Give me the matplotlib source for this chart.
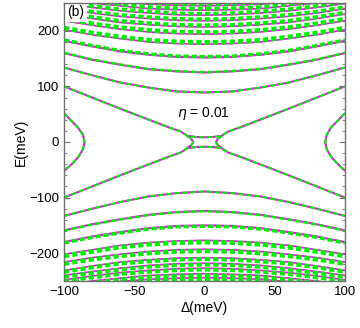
import matplotlib
matplotlib.use("Agg")
import matplotlib.pyplot as plt
import numpy as np
from matplotlib.ticker import MultipleLocator

plt.rcParams['font.family'] = ['Liberation Sans', 'DejaVu Sans']
plt.rcParams['lines.scale_dashes'] = False

# ---- data (meV) ----
delta = [-100, -80, -60, -40, -20, 0, 20, 40, 60, 80, 100]

# upper bands E_n(Delta)
up1 = [134, 120, 107, 98, 91, 89, 91, 98, 107, 120, 134]
up2 = [160, 148, 139, 131, 127, 125, 127, 131, 139, 148, 160]
up3 = [182, 172, 163, 157, 153, 152, 153, 157, 163, 172, 182]
up4 = [202, 193, 186, 180, 177, 176, 177, 180, 186, 193, 202]
up5 = [218, 210, 203, 198, 195, 194, 195, 198, 203, 210, 218]
up6 = [230, 222, 215, 211, 208, 207, 208, 211, 215, 222, 230]
up7 = [240, 232, 226, 222, 219, 218, 219, 222, 226, 232, 240]
up8 = [249, 242, 236, 232, 229, 228, 229, 232, 236, 242, 249]
up9 = [257, 250, 245, 240, 238, 237, 238, 240, 245, 250, 257]
up10 = [265, 258, 252, 248, 246, 245, 246, 248, 252, 258, 265]

# lower bands
dn1 = [-133, -120, -108, -98, -92, -89, -92, -98, -108, -120, -133]
dn2 = [-159, -148, -139, -131, -126, -124, -126, -131, -139, -148, -159]
dn3 = [-180, -170, -162, -155, -151, -150, -151, -155, -162, -170, -180]
dn4 = [-202, -194, -186, -181, -178, -177, -178, -181, -186, -194, -202]
dn5 = [-216, -208, -202, -197, -194, -193, -194, -197, -202, -208, -216]
dn6 = [-231, -223, -216, -212, -209, -208, -209, -212, -216, -223, -231]
dn7 = [-240, -233, -227, -222, -219, -218, -219, -222, -227, -233, -240]
dn8 = [-248, -241, -235, -231, -228, -227, -228, -231, -235, -241, -248]
dn9 = [-257, -250, -245, -240, -238, -237, -238, -240, -245, -250, -257]
dn10 = [-264, -257, -251, -247, -245, -244, -245, -247, -251, -257, -264]

# crossing ("X") branches
delta_x = [-100, -80, -60, -40, -25, -17, -12, -6, 0, 6, 12, 17, 25, 40, 60, 80, 100]
x_up = [100, 80, 60, 40.5, 26, 19, 11, 9, 8.5, 9, 11, 19, 26, 40.5, 60, 80, 100]
x_dn = [-100, -80, -60, -40.5, -26, -19, -11, -9, -8.5, -9, -11, -19, -26, -40.5, -60, -80, -100]

# small arcs near the centre
arc_E = [11, 6, 0, -6, -11]
arc_left = [-12.5, -9.5, -8, -9.5, -12.5]
arc_right = [12.5, 9.5, 8.3, 9.5, 12.5]

# side curves near the edges
side_E = [52, 40, 26, 13, 0, -13, -26, -40, -52]
side_left = [-100, -95.5, -90, -86.5, -85.3, -86.5, -89.5, -94.5, -100]
side_right = [100, 95.5, 90, 87, 86, 87, 90, 95, 100]

MAG = '#ff00ff'
GRN = '#00f000'

fig = plt.figure(figsize=(3.6, 3.28), dpi=100)
ax = fig.add_axes([64/360, 1-281/328, 281/360, 278/328])

def draw(x, y, green_lw=1.4, shift=0.0, dashes=(4.0, 1.8), mag_lw=1.5):
    ax.plot(x, y, color=MAG, lw=mag_lw, solid_capstyle='butt', zorder=2)
    yy = np.asarray(y, float)
    yy = yy + np.sign(yy) * shift
    l, = ax.plot(x, yy, color=GRN, lw=green_lw, zorder=3, dash_capstyle='butt')
    l.set_dashes(dashes)

styles = [(1.4, 0.0), (1.7, 0.5), (2.4, 1.5), (3.4, 3.0), (3.2, 3.0),
          (3.0, 2.5), (2.8, 2.5), (2.8, 2.5), (2.8, 2.5), (2.8, 2.5)]
ups = [up1, up2, up3, up4, up5, up6, up7, up8, up9, up10]
dns = [dn1, dn2, dn3, dn4, dn5, dn6, dn7, dn8, dn9, dn10]
for k, (lw, sh) in enumerate(styles):
    dsh = (4.0, 1.8) if k < 3 else (3.8, 2.2)
    mlw = 1.5 if k < 3 else 1.2
    draw(delta, ups[k], lw, sh, dsh, mlw)
    draw(delta, dns[k], lw, sh, dsh, mlw)

draw(delta_x, x_up)
draw(delta_x, x_dn)
draw(arc_left, arc_E)
draw(arc_right, arc_E)
draw(side_left, side_E)
draw(side_right, side_E)

ax.set_xlim(-100, 100)
ax.set_ylim(-250, 250)
ax.xaxis.set_major_locator(MultipleLocator(50))
ax.xaxis.set_minor_locator(MultipleLocator(10))
ax.yaxis.set_major_locator(MultipleLocator(100))
ax.yaxis.set_minor_locator(MultipleLocator(20))
frame_c = '#707070'
for s in ax.spines.values():
    s.set_color(frame_c)
    s.set_linewidth(1.0)
    s.set_zorder(10)
ax.tick_params(which='both', direction='in', top=True, right=True, color=frame_c,
               labelsize=9.5, labelcolor='black')
ax.tick_params(which='major', length=4.5, width=0.8)
ax.tick_params(which='minor', length=2.5, width=0.6)
ax.set_xlabel('Δ(meV)', fontsize=10, labelpad=2)
ax.set_ylabel('E(meV)', fontsize=10, labelpad=1)

ax.text(-1, 52, r'$\eta$ = 0.01', fontsize=10, ha='center', va='center', zorder=5)
ax.text(-97.5, 233, '(b)', fontsize=10, ha='left', va='center', zorder=6,
        bbox=dict(facecolor='white', edgecolor='none', pad=1.5))

fig.savefig('out.png', dpi=100)
